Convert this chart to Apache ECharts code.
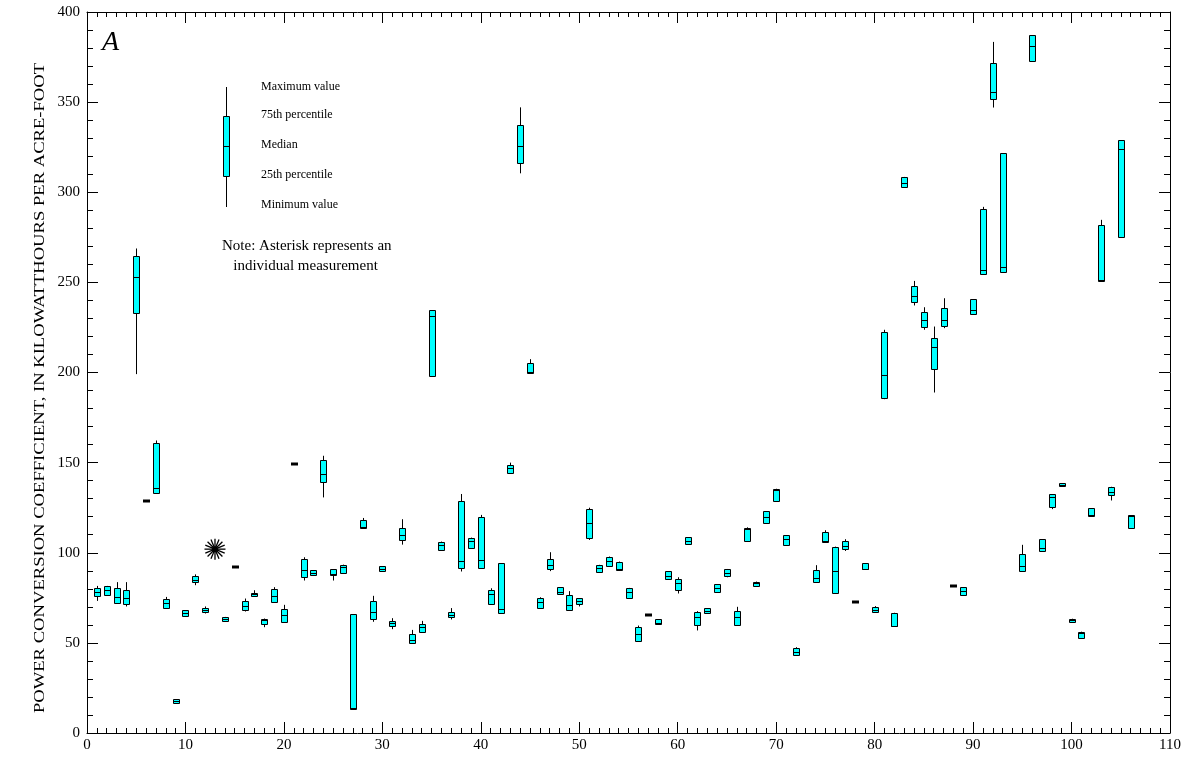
<!DOCTYPE html>
<html>
<head>
<meta charset="utf-8">
<script src="https://cdn.jsdelivr.net/npm/echarts@6/dist/echarts.min.js"></script>
<style>
  html, body { margin: 0; padding: 0; background: #ffffff; }
  #chart { width: 1188px; height: 761px; }
</style>
</head>
<body>
<div id="chart"></div>
<script>
// Station numbers along the horizontal axis
const stations = [
  1, 2, 3, 4, 5, 6, 7, 8, 9, 10,
  11, 12, 14, 15, 16, 17, 18, 19, 20,
  21, 22, 23, 24, 25, 26, 27, 28, 29, 30,
  31, 32, 33, 34, 35, 36, 37, 38, 39, 40,
  41, 42, 43, 44, 45, 46, 47, 48, 49, 50,
  51, 52, 53, 54, 55, 56, 57, 58, 59, 60,
  61, 62, 63, 64, 65, 66, 67, 68, 69, 70,
  71, 72, 74, 75, 76, 77, 78, 79, 80,
  81, 82, 83, 84, 85, 86, 87, 88, 89, 90,
  91, 92, 93, 95, 96, 97, 98, 99, 100,
  101, 102, 103, 104, 105, 106
];
// Power conversion coefficient statistics, kilowatthours per acre-foot
const minimums = [
  73.3, 76.6, 72.0, 70.2, 199.1, 128.5, 133.1, 68.9, 16.1, 64.8,
  82.0, 66.3, 62.2, 92.2, 67.4, 75.5, 58.7, 72.5, 61.7,
  149.2, 84.6, 87.7, 130.7, 84.6, 88.8, 13.5, 113.8, 61.7, 89.8,
  57.6, 104.5, 49.7, 55.8, 198.0, 101.4, 63.0, 89.6, 102.9, 91.8,
  71.3, 66.5, 144.2, 310.5, 199.6, 69.0, 89.8, 77.0, 68.3, 70.2,
  107.1, 89.4, 92.7, 90.5, 74.8, 51.2, 65.4, 60.2, 85.5, 77.4,
  104.7, 56.9, 66.5, 78.5, 86.4, 60.0, 106.4, 81.8, 116.5, 128.5,
  104.5, 43.2, 83.7, 106.0, 77.6, 101.0, 72.6, 90.9, 67.0,
  185.2, 59.1, 303.1, 237.2, 223.7, 188.9, 224.6, 81.3, 76.5, 232.7,
  254.5, 347.0, 256.0, 90.0, 373.0, 100.9, 124.2, 136.8, 61.6,
  52.7, 120.3, 250.8, 129.0, 274.9, 113.7
];
const q1Values = [
  76.1, 76.6, 72.0, 71.3, 232.9, 128.5, 133.1, 69.4, 16.6, 64.8,
  83.5, 67.0, 62.2, 92.2, 68.0, 75.9, 60.4, 72.5, 61.7,
  149.2, 86.5, 87.7, 139.0, 87.7, 88.8, 13.5, 113.8, 63.0, 89.8,
  59.3, 107.3, 49.7, 56.3, 198.0, 101.4, 64.5, 91.8, 102.9, 91.8,
  71.7, 66.5, 144.2, 316.5, 199.6, 69.6, 90.9, 77.0, 68.3, 71.8,
  108.0, 89.4, 92.7, 90.5, 74.8, 51.2, 65.4, 60.2, 85.5, 79.2,
  104.7, 59.8, 66.5, 78.5, 87.3, 60.0, 106.4, 81.8, 116.5, 128.5,
  104.5, 43.2, 83.7, 106.0, 77.6, 101.9, 72.6, 90.9, 67.0,
  186.1, 59.1, 303.1, 239.0, 225.5, 201.8, 225.9, 81.3, 76.5, 232.7,
  254.5, 351.6, 256.0, 90.0, 373.0, 100.9, 125.3, 136.8, 61.6,
  52.7, 120.3, 250.8, 132.2, 274.9, 113.7
];
const medians = [
  78.5, 79.4, 75.7, 74.8, 253.0, 128.5, 135.9, 72.0, 17.5, 66.3,
  85.0, 68.5, 63.3, 92.2, 70.7, 77.2, 62.8, 75.9, 65.2,
  149.2, 90.2, 89.0, 143.6, 88.0, 92.0, 14.0, 114.3, 67.0, 91.2,
  60.8, 109.7, 51.5, 58.9, 231.1, 104.2, 65.7, 95.3, 106.7, 96.0,
  77.0, 68.7, 147.0, 325.5, 200.5, 72.4, 93.4, 78.3, 71.1, 73.5,
  116.7, 91.6, 95.7, 90.9, 78.3, 55.0, 65.4, 61.3, 87.3, 83.3,
  106.7, 64.3, 67.8, 80.5, 89.0, 64.3, 113.2, 83.1, 119.9, 135.0,
  107.8, 45.1, 86.1, 106.4, 89.9, 104.0, 72.6, 91.2, 68.1,
  198.5, 59.6, 305.0, 242.3, 229.2, 214.4, 229.2, 81.3, 78.6, 234.8,
  256.9, 355.5, 258.4, 92.4, 381.3, 102.6, 131.2, 137.7, 62.5,
  55.3, 120.7, 251.4, 133.8, 324.2, 120.3
];
const q3Values = [
  80.7, 81.3, 80.7, 79.2, 264.5, 128.5, 160.8, 74.4, 18.8, 68.0,
  87.2, 69.6, 64.4, 92.2, 73.3, 77.9, 63.5, 80.0, 68.7,
  149.2, 96.6, 90.3, 151.2, 90.9, 93.4, 65.9, 118.0, 73.1, 92.5,
  62.0, 113.6, 55.2, 60.6, 234.6, 106.2, 67.0, 128.5, 108.4, 120.0,
  79.2, 94.2, 148.8, 337.2, 205.5, 74.8, 96.4, 80.9, 76.6, 74.8,
  124.3, 93.3, 97.9, 95.1, 80.5, 58.9, 65.4, 63.0, 89.6, 85.7,
  108.6, 67.0, 69.3, 82.4, 91.0, 67.8, 113.8, 84.0, 123.0, 135.5,
  109.7, 46.9, 90.3, 111.7, 103.4, 106.4, 72.6, 94.2, 69.8,
  222.7, 66.7, 308.5, 247.9, 233.8, 219.4, 235.9, 81.3, 80.8, 240.7,
  290.6, 371.5, 321.6, 99.3, 387.0, 107.6, 132.5, 138.6, 63.4,
  56.2, 124.6, 281.7, 136.6, 328.8, 120.9
];
const maximums = [
  81.6, 81.6, 83.7, 83.7, 268.8, 128.5, 162.3, 75.5, 18.8, 68.0,
  88.0, 70.2, 64.4, 92.2, 74.6, 79.2, 63.5, 80.9, 71.1,
  149.2, 97.5, 90.3, 153.8, 90.9, 93.4, 65.9, 119.3, 76.1, 92.5,
  63.7, 118.6, 57.2, 62.2, 234.6, 106.2, 69.3, 132.6, 108.4, 121.0,
  80.3, 94.2, 150.0, 347.1, 207.4, 75.3, 100.3, 80.9, 78.7, 74.8,
  125.0, 93.3, 97.9, 95.1, 80.5, 59.6, 65.4, 63.0, 89.6, 86.4,
  108.6, 67.6, 69.3, 82.4, 91.0, 70.0, 114.1, 84.0, 123.0, 135.5,
  109.7, 47.6, 93.1, 112.5, 103.4, 107.5, 72.6, 94.2, 70.4,
  223.7, 66.7, 308.5, 250.8, 236.2, 225.5, 241.2, 81.3, 80.8, 240.7,
  291.9, 383.4, 321.6, 104.4, 387.0, 107.6, 132.5, 138.6, 63.4,
  56.2, 124.6, 284.7, 136.6, 328.8, 120.9
];
// Stations with a single measurement (drawn as an asterisk)
const singleStations = [13];
const singleValues = [102];

const SERIF = 'Liberation Serif';
const Y_TITLE = 'POWER CONVERSION COEFFICIENT, IN KILOWATTHOURS PER ACRE-FOOT';

const boxData = stations.map((s, i) => [s, minimums[i], q1Values[i], medians[i], q3Values[i], maximums[i]]);
const singleData = singleStations.map((s, i) => [s, singleValues[i]]);

function crisp(v) { return Math.round(v) + 0.5; }

function renderBox(params, api) {
  const x = api.value(0);
  const pMin = api.coord([x, api.value(1)]);
  const pQ1 = api.coord([x, api.value(2)]);
  const pMed = api.coord([x, api.value(3)]);
  const pQ3 = api.coord([x, api.value(4)]);
  const pMax = api.coord([x, api.value(5)]);
  const cx = crisp(pMin[0]);
  const hw = 3;
  const top = crisp(pQ3[1]);
  const bot = crisp(pQ1[1]);
  const line = { stroke: '#000', lineWidth: 1 };
  const children = [];
  if (pMax[1] < top - 0.5) {
    children.push({ type: 'line', shape: { x1: cx, y1: pMax[1], x2: cx, y2: top }, style: line });
  }
  if (pMin[1] > bot + 0.5) {
    children.push({ type: 'line', shape: { x1: cx, y1: bot, x2: cx, y2: pMin[1] }, style: line });
  }
  if (bot - top < 2) {
    // single repeated value: short dark bar
    const yc = Math.round(pMed[1]);
    children.push({ type: 'rect', shape: { x: cx - hw - 0.5, y: yc - 1.5, width: 2 * hw + 1, height: 3 }, style: { fill: '#000' } });
  } else {
    children.push({ type: 'rect', shape: { x: cx - hw, y: top, width: 2 * hw, height: bot - top }, style: { fill: '#00ffff', stroke: '#000', lineWidth: 1 } });
    const ym = crisp(pMed[1]);
    children.push({ type: 'line', shape: { x1: cx - hw, y1: ym, x2: cx + hw, y2: ym }, style: line });
  }
  return { type: 'group', children: children };
}

function renderAsterisk(params, api) {
  const p = api.coord([api.value(0), api.value(1)]);
  const r = 10.5;
  const children = [];
  for (let k = 0; k < 8; k++) {
    const a = k * Math.PI / 8;
    const dx = Math.cos(a) * r, dy = Math.sin(a) * r;
    children.push({ type: 'line', shape: { x1: p[0] - dx, y1: p[1] - dy, x2: p[0] + dx, y2: p[1] + dy }, style: { stroke: '#000', lineWidth: 1.3 } });
  }
  children.push({ type: 'circle', shape: { cx: p[0], cy: p[1], r: 3 }, style: { fill: '#000' } });
  return { type: 'group', children: children };
}

function xAxisDef(position, labels) {
  return {
    type: 'value', position: position, min: 0, max: 110, interval: 10,
    axisLine: { show: true, onZero: false, lineStyle: { color: '#000', width: 1 } },
    axisTick: { show: true, inside: true, length: 11, lineStyle: { color: '#000' } },
    minorTick: { show: true, splitNumber: 10, length: 5, lineStyle: { color: '#000' } },
    splitLine: { show: false },
    axisLabel: { show: labels, color: '#000', fontFamily: SERIF, fontSize: 15, margin: 5 }
  };
}
function yAxisDef(position, labels) {
  return {
    type: 'value', position: position, min: 0, max: 400, interval: 50,
    axisLine: { show: true, onZero: false, lineStyle: { color: '#000', width: 1 } },
    axisTick: { show: true, inside: true, length: 11, lineStyle: { color: '#000' } },
    minorTick: { show: true, splitNumber: 5, length: 6, lineStyle: { color: '#000' } },
    splitLine: { show: false },
    axisLabel: { show: labels, color: '#000', fontFamily: SERIF, fontSize: 15, margin: 7 }
  };
}

// Explanation key: sample box with its labels
const keyX = 226.5;
const keyText = (text, y) => ({
  type: 'text', left: 261, top: y - 7,
  style: { text: text, fill: '#000', font: '12px "Liberation Serif"' }
});

const chart = echarts.init(document.getElementById('chart'), null, { renderer: 'canvas' });
chart.setOption({
  backgroundColor: '#ffffff',
  animation: false,
  grid: { left: 87, right: 18, top: 12, bottom: 28, containLabel: false },
  xAxis: [xAxisDef('bottom', true), xAxisDef('top', false)],
  yAxis: [yAxisDef('left', true), yAxisDef('right', false)],
  series: [
    {
      type: 'custom', name: 'Stations', xAxisIndex: 0, yAxisIndex: 0,
      renderItem: renderBox, data: boxData, clip: true,
      encode: { x: 0, y: [1, 2, 3, 4, 5] }
    },
    {
      type: 'custom', name: 'Single measurement', xAxisIndex: 0, yAxisIndex: 0,
      renderItem: renderAsterisk, data: singleData,
      encode: { x: 0, y: 1 }
    }
  ],
  graphic: [
    // vertical axis title, set in a tall narrow serif face
    {
      type: 'text', x: 40, y: 388, rotation: Math.PI / 2, scaleX: 1.24, scaleY: 1,
      style: { text: Y_TITLE, fill: '#000', font: '15px "Liberation Serif"', align: 'center', verticalAlign: 'middle' }
    },
    { type: 'text', left: 102, top: 29, style: { text: 'A', fill: '#000', font: 'italic 28px "Liberation Serif"' } },
    { type: 'line', shape: { x1: keyX, y1: 87, x2: keyX, y2: 117 }, style: { stroke: '#000', lineWidth: 1 } },
    { type: 'line', shape: { x1: keyX, y1: 177, x2: keyX, y2: 207 }, style: { stroke: '#000', lineWidth: 1 } },
    { type: 'rect', shape: { x: keyX - 3, y: 116.5, width: 6, height: 60 }, style: { fill: '#00ffff', stroke: '#000', lineWidth: 1 } },
    { type: 'line', shape: { x1: keyX - 3, y1: 146.5, x2: keyX + 3, y2: 146.5 }, style: { stroke: '#000', lineWidth: 1 } },
    keyText('Maximum value', 88),
    keyText('75th percentile', 116),
    keyText('Median', 146),
    keyText('25th percentile', 176),
    keyText('Minimum value', 206),
    {
      type: 'text', left: 222, top: 236,
      style: { text: 'Note: Asterisk represents an\n   individual measurement', fill: '#000', font: '15px "Liberation Serif"', lineHeight: 20 }
    }
  ]
});
</script>
</body>
</html>
